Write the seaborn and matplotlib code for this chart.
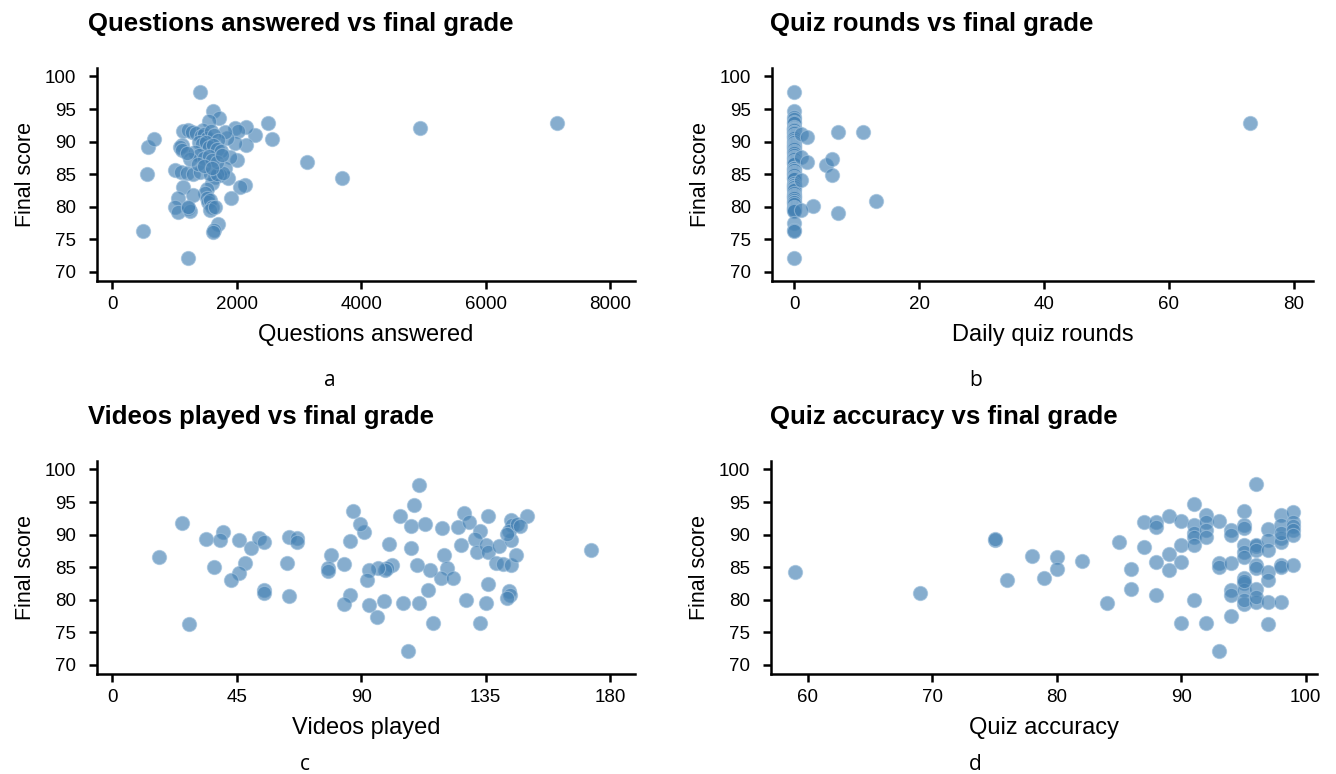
import matplotlib
matplotlib.use("Agg")
import matplotlib.pyplot as plt
import seaborn as sns
import pandas as pd

# panel a: questions answered vs final score
questions_answered = [498, 553, 579, 675, 1222, 1410, 1614, 1720, 1560, 2508, 2562, 3135, 3693, 4946, 7149,
                      1704, 1635, 1620, 2133, 2053, 1908,
                      2294, 2150, 1973, 2026, 2150, 1973, 2000, 1839, 1812, 1892, 1865, 1812, 1731, 1651,
                      1598, 1517, 1490, 1517, 1543, 1570, 1598, 1570, 1651,
                      1141, 1302, 1061, 1008, 1061, 1222, 1249, 1222,
                      1008, 1100, 1196, 1302, 1410, 1570, 1677, 1785,
                      1132, 1222, 1277, 1463, 1116, 1088, 1116,
                      1350, 1420, 1480, 1530, 1580, 1640, 1700, 1390, 1450, 1510, 1560, 1620, 1680,
                      1750, 1330, 1400, 1470, 1550, 1610, 1690, 1250, 1370, 1480, 1600, 1760, 1200]
score_a = [76.2, 85.0, 89.1, 90.4, 72.2, 97.6, 94.7, 93.7, 93.2, 92.9, 90.4, 86.9, 84.4, 92.1, 92.9,
           77.4, 76.4, 76.1, 83.4, 83.1, 81.3,
           91.0, 92.2, 92.1, 91.7, 89.5, 89.8, 87.2, 90.5, 91.5, 87.7, 84.4, 85.9, 84.9, 84.5,
           83.6, 82.8, 82.1, 81.3, 80.8, 81.0, 80.0, 79.5, 80.0,
           83.0, 81.8, 81.3, 80.0, 79.2, 79.8, 79.4, 80.0,
           85.6, 85.4, 85.2, 85.0, 85.3, 85.1, 85.0, 85.2,
           91.7, 91.8, 91.5, 91.8, 89.5, 89.2, 88.7,
           91.3, 90.8, 91.2, 90.5, 91.6, 91.0, 90.2, 90.0, 89.6, 89.9, 89.2, 89.5, 88.8,
           88.6, 88.4, 88.0, 87.5, 87.8, 87.2, 86.8, 87.3, 86.6, 86.3, 86.0, 87.9, 88.3]

# panel b: daily quiz rounds vs final score
quiz_rounds_other = [1, 2, 7, 11, 1, 2, 5, 6, 6, 1, 3, 1, 7, 13, 73]
score_b_other = [91.2, 90.7, 91.4, 91.4, 87.7, 86.9, 86.4, 87.3, 84.9, 84.1, 80.1, 79.5, 79.1, 80.9, 92.9]
score_b_zero = [97.6, 94.7, 93.8, 93.4, 93.0, 92.9, 92.2, 92.1, 92.0, 92.0, 91.8, 91.5, 91.5, 91.3, 91.0,
                90.8, 90.7, 90.5, 90.2, 90.0, 89.9, 89.6, 89.5, 89.3, 89.2, 89.0, 88.8, 88.5, 88.4, 88.3,
                88.0, 87.7, 87.5, 87.3, 87.0, 86.8, 86.7, 86.5, 86.0, 85.9, 85.7, 85.6, 85.3, 85.2, 85.0,
                84.8, 84.6, 84.4, 84.3, 83.6, 83.4, 83.3, 83.1, 83.0, 82.8, 82.5, 82.1, 81.8, 81.6, 81.5,
                81.3, 81.1, 80.8, 80.7, 80.4, 80.0, 79.8, 79.6, 79.5, 79.4, 77.5, 76.4, 76.2, 72.2]

# panel c: videos played vs final score
videos_played = [25.1, 17, 27.9, 33.9, 39.9, 39, 36.9, 46, 50.2, 48, 46, 42.9, 53.1, 55, 54.9, 54.9,
                 63.9, 66.9, 66.9, 63.1, 63.9, 79, 77.9, 77.9, 83.9, 86, 83.9, 86, 91, 89.6, 87,
                 111, 109.1, 104.1, 108, 113.1, 119.1, 124.9, 127, 129, 136, 133, 131.2, 100, 108,
                 126, 131.8, 135.1, 136, 140, 138.8, 141.2, 144.1, 146, 144.2, 119.9, 120.9, 118.9,
                 123.1, 114.9, 110.1, 101.3, 99.2, 98.6, 96.2, 93, 92, 114, 136, 93, 98.1, 95.9,
                 105.1, 111, 115.9, 107.1, 127.9, 135, 133, 143.3, 143.9, 142.6, 173, 150, 144,
                 144.4, 143.4, 142.8, 146.4, 147.3]
score_c = [91.8, 86.5, 76.2, 89.3, 90.4, 89.2, 85.0, 89.1, 87.9, 85.6, 84.1, 83.1, 89.5, 88.8, 81.5, 81.1,
           89.7, 89.5, 88.8, 85.7, 80.5, 86.8, 84.9, 84.4, 85.5, 80.7, 79.4, 89.0, 90.4, 91.6, 93.6,
           97.6, 94.6, 92.8, 91.3, 91.7, 91.0, 91.2, 93.3, 92.0, 92.8, 90.5, 89.4, 88.5, 88.0,
           88.4, 87.4, 88.4, 87.3, 88.3, 85.7, 85.5, 85.3, 86.9, 89.2, 86.8, 84.8, 83.3,
           83.3, 84.6, 85.3, 85.3, 84.8, 84.5, 84.8, 84.5, 83.0, 81.5, 82.4, 79.2, 79.8, 77.4,
           79.5, 79.5, 76.4, 72.1, 80.0, 79.5, 76.4, 81.4, 80.7, 80.2, 87.6, 92.8, 92.2,
           91.4, 90.6, 90.1, 91.7, 91.3]

# panel d: quiz accuracy vs final score
quiz_accuracy = [59, 69, 75, 75, 76, 78, 79, 80, 80, 82, 84, 85, 86, 86, 87, 87,
                 88, 88, 88, 88, 89, 89, 89, 90, 90, 90, 90,
                 91, 91, 91, 91, 91, 91, 92, 92, 92, 92, 92, 93, 93, 93, 93,
                 94, 94, 94, 94, 94, 94,
                 95, 95, 95, 95, 95, 95, 95, 95, 95, 95, 95, 95,
                 96, 96, 96, 96, 96, 96, 96, 96, 96,
                 97, 97, 97, 97, 97, 97, 97,
                 98, 98, 98, 98, 98, 98, 98, 98,
                 99, 99, 99, 99, 99, 99]
score_d = [84.3, 81.1, 89.2, 89.3, 83.1, 86.7, 83.4, 86.5, 84.7, 85.9, 79.5, 88.8, 84.7, 81.6, 91.9, 88.1,
           92.0, 91.2, 85.8, 80.8, 92.9, 87.0, 84.6, 92.1, 88.4, 85.8, 76.4,
           94.7, 91.5, 90.2, 89.6, 88.4, 80.0, 93.0, 92.0, 90.7, 89.6, 76.4, 92.1, 85.6, 85.0, 72.2,
           90.7, 89.9, 85.6, 81.5, 80.7, 77.5,
           93.7, 91.5, 88.4, 87.3, 83.3, 82.5, 81.5, 79.4, 91.0, 86.6, 82.9, 79.9,
           97.7, 88.2, 85.3, 81.6, 79.7, 88.4, 87.6, 84.8, 80.4,
           90.8, 89.1, 87.7, 84.3, 83.0, 79.6, 76.3,
           93.0, 91.5, 89.5, 88.9, 85.3, 85.0, 79.6, 90.2,
           93.4, 92.0, 91.3, 90.7, 89.9, 85.3]

sns.set_theme(style="ticks")
plt.rcParams['font.family'] = ['Liberation Sans', 'DejaVu Sans']
plt.rcParams['text.color'] = 'black'
plt.rcParams['axes.labelcolor'] = 'black'

W, H = 1336, 774
fig = plt.figure(figsize=(W / 100, H / 100), dpi=100)

panels = [
    dict(x=questions_answered, y=score_a, xlab="Questions answered", title="Questions answered vs final grade",
         xlim=(-246, 8403), xticks=[0, 2000, 4000, 6000, 8000], box=(97, 68, 635, 281), tpos=(88, 24), tag="a", tagpos=(330, 381)),
    dict(x=[0] * len(score_b_zero) + quiz_rounds_other, y=score_b_zero + score_b_other, xlab="Daily quiz rounds",
         title="Quiz rounds vs final grade", xlim=(-3.6, 83.1), xticks=[0, 20, 40, 60, 80],
         box=(772, 68, 1313, 281), tpos=(770, 24), tag="b", tagpos=(976, 381)),
    dict(x=videos_played, y=score_c, xlab="Videos played", title="Videos played vs final grade",
         xlim=(-5.5, 189.0), xticks=[0, 45, 90, 135, 180], box=(97, 461, 635, 674), tpos=(88, 417), tag="c", tagpos=(305, 765)),
    dict(x=quiz_accuracy, y=score_d, xlab="Quiz accuracy", title="Quiz accuracy vs final grade",
         xlim=(57.05, 100.9), xticks=[60, 70, 80, 90, 100], box=(771, 461, 1317, 674), tpos=(770, 417), tag="d", tagpos=(975, 765)),
]

for p in panels:
    l, t, r, b = p["box"]
    ax = fig.add_axes([l / W, 1 - b / H, (r - l) / W, (b - t) / H])
    df = pd.DataFrame({"x": p["x"], "y": p["y"]})
    sns.scatterplot(data=df, x="x", y="y", ax=ax, color="steelblue", alpha=0.65, s=105,
                    edgecolor="#9fc0dc", linewidth=0.8)
    ax.set_xlim(*p["xlim"])
    ax.set_ylim(68.6, 101.3)
    ax.set_xticks(p["xticks"])
    ax.set_yticks([70, 75, 80, 85, 90, 95, 100])
    ax.set_xlabel(p["xlab"], fontsize=17, labelpad=8)
    ax.set_ylabel("Final score", fontsize=15.5, labelpad=6)
    ax.tick_params(labelsize=13.5, length=6, width=1.8, color="black", labelcolor="black")
    ax.tick_params(axis="y", pad=9)
    ax.tick_params(axis="x", pad=5)
    for side in ["left", "bottom"]:
        ax.spines[side].set_linewidth(1.8)
        ax.spines[side].set_color("black")
    sns.despine(ax=ax)
    fig.text(p["tpos"][0] / W, 1 - p["tpos"][1] / H, p["title"], fontsize=18.5, fontweight="bold",
             ha="left", va="center", color="black")
    fig.text(p["tagpos"][0] / W, 1 - p["tagpos"][1] / H, p["tag"], fontsize=15, ha="center", va="center",
             family=["Open Sans", "DejaVu Sans"], color="black")

fig.savefig("out.png", dpi=100)
